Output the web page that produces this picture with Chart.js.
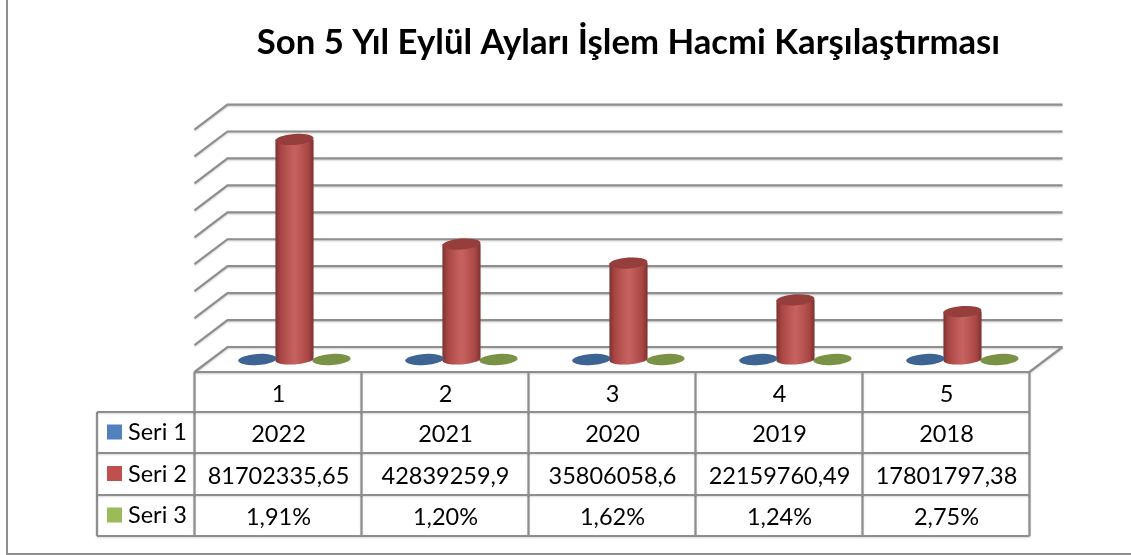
<!DOCTYPE html>
<html lang="tr">
<head>
<meta charset="utf-8">
<title>Son 5 Yıl Eylül Ayları İşlem Hacmi Karşılaştırması</title>
<script src="https://cdn.jsdelivr.net/npm/chart.js@4"></script>
<style>
  html, body { margin: 0; background: #fff; overflow: hidden; }
  #wrap { width: 1131px; height: 555px; position: relative; }
</style>
</head>
<body>
<div id="wrap"><canvas id="chart"></canvas></div>
<script>
const categories = ['1', '2', '3', '4', '5'];
const seri1 = [2022, 2021, 2020, 2019, 2018];
const seri2 = [81702335.65, 42839259.9, 35806058.6, 22159760.49, 17801797.38];
const seri3 = [1.91, 1.20, 1.62, 1.24, 2.75];   // percent
const seriesNames = ['Seri 1', 'Seri 2', 'Seri 3'];
const seriesColors = ['#4F81BD', '#C0504D', '#9BBB59'];
const titleText = 'Son 5 Yıl Eylül Ayları İşlem Hacmi Karşılaştırması';

const FONT = 'Lato, "Open Sans", sans-serif';
const LINE = '#8e8e8e';
// half of the fake 3D floor depth, bars stand in the middle of it
const DX = 16.5, DY = 12.5;
const TILT = -0.07, RY = 4.9;
const ROW_Y = [372, 412, 453, 495, 536];
const TABLE_LEFT = 97;

function seg(ctx, x1, y1, x2, y2) {
  ctx.beginPath(); ctx.moveTo(x1, y1); ctx.lineTo(x2, y2); ctx.stroke();
}

function fmtNumber(v) { return String(v).replace('.', ','); }
function fmtPercent(v) { return v.toFixed(2).replace('.', ',') + '%'; }

// ─── Walls and floor, from the y scale ticks ─────────────────────
const wallsPlugin = {
  id: 'walls',
  beforeDatasetsDraw(chart) {
    const { ctx, chartArea: a, scales: { y } } = chart;
    ctx.save();
    ctx.strokeStyle = LINE;
    ctx.lineWidth = 2.2;
    ctx.shadowColor = 'rgba(0,0,0,.2)';
    ctx.shadowBlur = 2;
    ctx.shadowOffsetY = 1;
    y.ticks.forEach(t => {
      const py = y.getPixelForValue(t.value);
      ctx.beginPath();
      ctx.moveTo(a.left - DX, py + DY);
      ctx.lineTo(a.left + DX, py - DY);
      ctx.lineTo(a.right + DX, py - DY);
      ctx.stroke();
    });
    // front and right edge of the floor
    const base = y.getPixelForValue(0);
    ctx.beginPath();
    ctx.moveTo(a.left - DX, base + DY);
    ctx.lineTo(a.right - DX, base + DY);
    ctx.lineTo(a.right + DX, base - DY);
    ctx.stroke();
    ctx.restore();
  },
};

// ─── Cylinders in place of the flat bars ─────────────────────────
function drawCylinder(ctx, bar, color) {
  const x = bar.x, top = bar.y, base = bar.base, rx = bar.width / 2 + 0.5;
  ctx.beginPath();
  ctx.moveTo(x - rx, top);
  ctx.lineTo(x - rx, base);
  ctx.ellipse(x, base, rx, RY, TILT, Math.PI, 0, true);
  ctx.lineTo(x + rx, top);
  ctx.closePath();
  ctx.fillStyle = color;
  ctx.fill();
  const shade = ctx.createLinearGradient(x - rx, 0, x + rx, 0);
  shade.addColorStop(0, 'rgba(0,0,0,.36)');
  shade.addColorStop(0.14, 'rgba(0,0,0,.12)');
  shade.addColorStop(0.5, 'rgba(255,255,255,.1)');
  shade.addColorStop(0.86, 'rgba(0,0,0,.12)');
  shade.addColorStop(1, 'rgba(0,0,0,.36)');
  ctx.fillStyle = shade;
  ctx.fill();
  // lid
  ctx.beginPath();
  ctx.ellipse(x, top, rx, RY + 0.6, TILT, 0, Math.PI * 2);
  ctx.fillStyle = color;
  ctx.fill();
  ctx.fillStyle = 'rgba(0,0,0,.22)';
  ctx.fill();
}

const cylinderPlugin = {
  id: 'cylinders',
  beforeDatasetDraw(chart, args) {
    const ds = chart.data.datasets[args.index];
    args.meta.data.forEach(bar => drawCylinder(chart.ctx, bar, ds.backgroundColor));
    return false;
  },
};

// ─── Data table under the plot ───────────────────────────────────
const tablePlugin = {
  id: 'dataTable',
  afterDraw(chart) {
    const { ctx, chartArea: a, scales: { x } } = chart;
    const colW = (a.right - a.left) / categories.length;
    const left = a.left - DX;
    const rows = [
      categories,
      seri1.map(fmtNumber),
      seri2.map(fmtNumber),
      seri3.map(fmtPercent),
    ];
    ctx.save();
    ctx.strokeStyle = LINE;
    ctx.lineWidth = 2.2;
    ctx.shadowColor = 'rgba(0,0,0,.15)';
    ctx.shadowBlur = 2;
    ctx.shadowOffsetY = 1;
    for (let c = 0; c <= categories.length; c++) {
      seg(ctx, left + c * colW, ROW_Y[0], left + c * colW, ROW_Y[4]);
    }
    seg(ctx, TABLE_LEFT, ROW_Y[1], TABLE_LEFT, ROW_Y[4]);
    for (let r = 1; r < ROW_Y.length; r++) {
      seg(ctx, TABLE_LEFT, ROW_Y[r], a.right - DX, ROW_Y[r]);
    }
    ctx.restore();

    ctx.save();
    ctx.font = '23.5px ' + FONT;
    ctx.fillStyle = '#000';
    ctx.textBaseline = 'middle';
    ctx.textAlign = 'center';
    rows.forEach((cells, r) => {
      const cy = (ROW_Y[r] + ROW_Y[r + 1]) / 2 + 2;
      cells.forEach((txt, c) => {
        ctx.fillText(txt, x.getPixelForValue(c) - DX + 0.5, cy);
      });
    });
    ctx.textAlign = 'left';
    seriesNames.forEach((name, i) => {
      const cy = (ROW_Y[i + 1] + ROW_Y[i + 2]) / 2;
      ctx.fillStyle = chart.data.datasets[i].backgroundColor;
      ctx.fillRect(107, cy - 8, 15, 15);
      ctx.fillStyle = '#000';
      ctx.fillText(name, 128, cy);
    });
    ctx.restore();

    // outer frame, only the left and bottom show in the crop
    ctx.save();
    ctx.strokeStyle = LINE;
    ctx.lineWidth = 2;
    ctx.beginPath();
    ctx.moveTo(7, 0);
    ctx.lineTo(7, 554);
    ctx.lineTo(1131, 554);
    ctx.stroke();
    ctx.restore();
  },
};

new Chart(document.getElementById('chart'), {
  type: 'bar',
  data: {
    labels: categories,
    datasets: [
      { label: seriesNames[0], data: seri1, backgroundColor: seriesColors[0] },
      { label: seriesNames[1], data: seri2, backgroundColor: seriesColors[1] },
      { label: seriesNames[2], data: seri3.map(v => v / 100), backgroundColor: seriesColors[2] },
    ],
  },
  options: {
    responsive: true,
    maintainAspectRatio: false,
    animation: false,
    layout: { padding: { left: 211, right: 85, top: 0, bottom: 195.5 } },
    datasets: { bar: { barPercentage: 1, categoryPercentage: 0.665 } },
    plugins: {
      legend: { display: false },
      tooltip: { enabled: false },
      title: {
        display: true,
        text: titleText,
        fullSize: false,
        color: '#000',
        font: { family: FONT, size: 34.7, weight: 'bold', lineHeight: 1.2 },
        padding: { top: 22, bottom: 53.4 },
      },
    },
    scales: {
      x: { display: false },
      y: { display: false, min: 0, max: 90000000, ticks: { stepSize: 10000000 } },
    },
  },
  plugins: [wallsPlugin, cylinderPlugin, tablePlugin],
});
</script>
</body>
</html>
